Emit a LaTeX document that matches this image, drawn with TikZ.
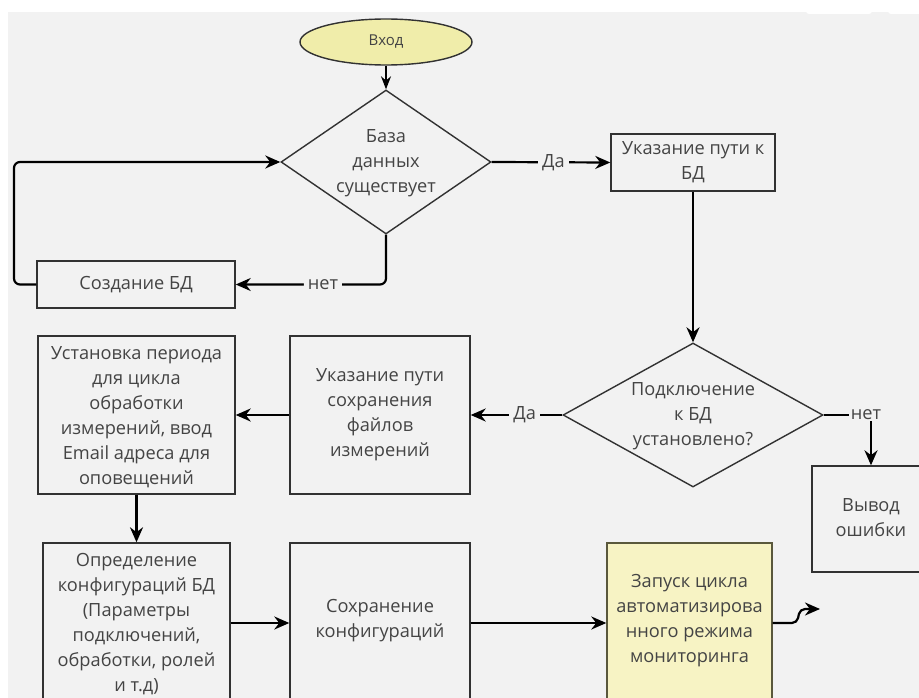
\documentclass[tikz,border=0pt]{standalone}
\usepackage{fontspec}
\setmainfont{Open Sans}
\usetikzlibrary{shapes.geometric,arrows.meta}
\definecolor{bgc}{RGB}{242,242,242}
\definecolor{txtc}{RGB}{68,68,68}
\definecolor{brd}{RGB}{50,50,50}
\definecolor{ellc}{RGB}{240,237,170}
\definecolor{yelc}{RGB}{247,243,196}
\definecolor{yelbrd}{RGB}{90,88,60}
\tikzset{
  txtfont/.style={font=\fontsize{18.2}{25}\selectfont, text=txtc},
  box/.style={draw=brd, line width=1.4pt, fill=bgc, inner sep=0pt, align=center, txtfont},
  dia/.style={diamond, draw=brd, line width=1.4pt, fill=bgc, inner sep=0pt},
  plain/.style={align=center, inner sep=0pt, txtfont},
  conn/.style={line width=2.2pt, draw=black, -{Stealth[length=15pt,width=13pt]}},
  thinconn/.style={line width=1.5pt, draw=black, -{Stealth[length=13pt,width=10pt]}},
  lab/.style={fill=bgc, inner xsep=4pt, inner ysep=1pt, txtfont},
}
\begin{document}
\begin{tikzpicture}[x=1pt,y=-1pt]
\useasboundingbox (0,0) rectangle (919,698);
\clip (0,0) rectangle (919,698);
\fill[white] (0,0) rectangle (919,698);
\fill[bgc] (8,12) rectangle (925,705);
\fill[white, rounded corners=3] (806,-5) rectangle (872,14);
\fill[white, rounded corners=3] (888,-5) rectangle (930,14);

% nodes
\node[ellipse, draw=brd, line width=1.4pt, fill=ellc, minimum width=172pt, minimum height=46pt, inner sep=0pt, font=\fontsize{15}{20}\selectfont, text=txtc] (start) at (386,42) {Вход};
\node[dia, minimum width=210pt, minimum height=144pt] (d1) at (386,162) {};
\node[plain] (d1t) at (386,163) {База\\данных\\существует};
\node[box, minimum width=164pt, minimum height=57pt] (b1) at (693,162.5) {Указание пути к\\БД};
\node[box, minimum width=198pt, minimum height=47pt] (create) at (136,284.5) {Создание БД};

\node[dia, minimum width=260pt, minimum height=144pt] (d2) at (693,415) {};
\node[plain] (d2t) at (693,416) {Подключение\\к БД\\установлено?};
\node[box, minimum width=118pt, minimum height=106pt] (err) at (871,519) {};
\node[plain] (errt) at (871,517.5) {Вывод\\ошибки};

\node[box, minimum width=180pt, minimum height=158pt] (path2) at (380,415) {};
\node[plain] (path2t) at (380,414.5) {Указание пути\\сохранения\\файлов\\измерений};
\node[box, minimum width=197pt, minimum height=158pt] (period) at (136.5,415) {};
\node[plain] (periodt) at (136.5,417.5) {Установка периода\\для цикла\\обработки\\измерений, ввод\\Email адреса для\\оповещений};

\node[box, minimum width=187pt, minimum height=160pt] (conf) at (136.5,623) {};
\node[plain] (conft) at (136.5,624.5) {Определение\\конфигураций БД\\(Параметры\\подключений,\\обработки, ролей\\и т.д)};
\node[box, minimum width=180pt, minimum height=160pt] (save) at (380,623) {};
\node[plain] (savet) at (380,620.5) {Сохранение\\конфигураций};
\node[box, fill=yelc, draw=yelbrd, minimum width=165pt, minimum height=160pt] (run) at (689.5,623) {};
\node[plain] (runt) at (689.5,620.5) {Запуск цикла\\автоматизирова\\нного режима\\мониторинга};

% connectors
\draw[thinconn] (start.south) -- (d1.north);
\draw[conn] (d1.east) -- node[lab, pos=0.52] {Да} (b1.west);
\draw[conn, rounded corners=6] (d1.south) |- node[lab, pos=0.71] {нет} (create.east);
\coordinate (lp) at (14,284.5);
\draw[conn, rounded corners=6] (create.west) -- (lp) |- (d1.west);
\draw[conn] (b1.south) -- (d2.north);
\draw[conn] (d2.west) -- node[lab, pos=0.41] {Да} (path2.east);
\node[lab, inner xsep=2pt] (no2) at (866,415) {нет};
\draw[line width=2pt] (d2.east) -- (no2.west);
\draw[conn, line width=2pt] (no2.south -| err.north) -- (err.north);
\draw[conn] (path2.west) -- (period.east);
\draw[conn] (period.south) -- (conf.north);
\draw[conn] (conf.east) -- (save.west);
\draw[conn] (save.east) -- (run.west);
\coordinate (o1) at (797,623);
\coordinate (o2) at (800,609);
\coordinate (o3) at (820,609);
\draw[conn, rounded corners=5] (run.east) -- (o1) -- (o2) -- (o3);
\end{tikzpicture}
\end{document}
